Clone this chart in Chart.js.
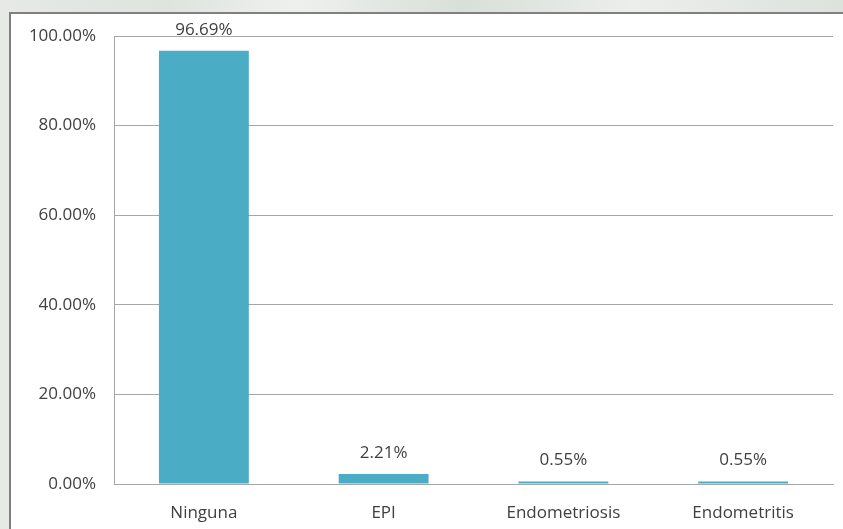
<!DOCTYPE html>
<html>
<head>
<meta charset="utf-8">
<script src="https://cdn.jsdelivr.net/npm/chart.js@4"></script>
<style>
html, body { margin: 0; padding: 0; }
body {
	width: 843px; height: 529px; overflow: hidden; position: relative;
	background: linear-gradient(90deg, #e6e9e6 0%, #dfe4df 20%, #eef0ee 35%, #d9dfd9 55%, #eceeec 75%, #dde2dd 100%);
}
#box {
	position: absolute; left: 9px; top: 12px; width: 832px; height: 517px;
	border-left: 2px solid #808080; border-top: 2px solid #808080;
	background: #fff;
}
</style>
</head>
<body>
<div id="box"><canvas id="grafico" width="832" height="515"></canvas></div>
<script>
var categorias = ["Ninguna", "EPI", "Endometriosis", "Endometritis"];
var porcentajes = [96.69, 2.21, 0.55, 0.55];
var ticksY = [0, 20, 40, 60, 80, 100];

var fuente = { family: "'Open Sans', 'Noto Sans', sans-serif", size: 17 };

// etiquetas encima de cada barra
var etiquetas = {
	id: "etiquetas",
	afterDatasetsDraw: function(chart) {
		var ctx = chart.ctx;
		var meta = chart.getDatasetMeta(0);
		ctx.save();
		ctx.font = "17px 'Open Sans', 'Noto Sans', sans-serif";
		ctx.fillStyle = "#404040";
		ctx.textAlign = "center";
		ctx.textBaseline = "middle";
		meta.data.forEach(function(bar, i) {
			ctx.fillText(porcentajes[i].toFixed(2) + "%", bar.x, bar.y - 21);
		});
		ctx.restore();
	}
};

var ctx = document.getElementById("grafico");
var config = {
	type: "bar",
	data: {
		labels: categorias,
		datasets: [{
			label: "",
			data: porcentajes,
			backgroundColor: "#4bacc6",
			categoryPercentage: 1,
			barPercentage: 0.5
		}]
	},
	options: {
		responsive: false,
		animation: false,
		layout: { padding: { top: 22, right: 10, left: 0, bottom: 0 } },
		plugins: { legend: { display: false }, tooltip: { enabled: false } },
		scales: {
			x: {
				grid: { display: false, drawTicks: false },
				border: { display: true, color: "#a6a6a6", width: 1 },
				ticks: { color: "#404040", font: fuente, padding: 19 },
				afterFit: function(scale) { scale.height = 45; scale.paddingRight = 0; scale.paddingLeft = 0; }
			},
			y: {
				min: 0,
				max: 100,
				afterBuildTicks: function(scale) {
					scale.ticks = ticksY.map(function(v) { return { value: v }; });
				},
				grid: { color: "#a6a6a6", lineWidth: 1, drawTicks: false },
				border: { display: true, color: "#a6a6a6", width: 1 },
				ticks: {
					color: "#404040", font: fuente, padding: 18,
					callback: function(v) { return v.toFixed(2) + "%"; }
				},
				afterFit: function(scale) { scale.width = 103; scale.paddingTop = 0; scale.paddingBottom = 0; }
			}
		}
	},
	plugins: [etiquetas]
};
var graficoBarras = new Chart(ctx, config);
</script>
</body>
</html>
